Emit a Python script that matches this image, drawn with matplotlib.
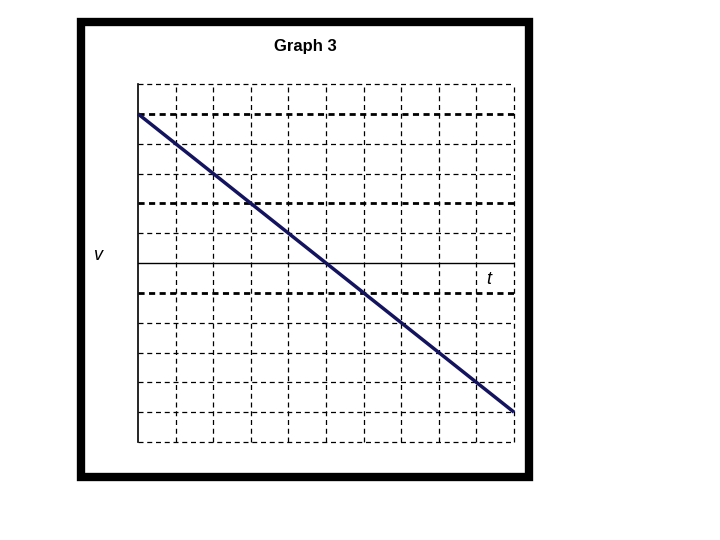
#!/usr/bin/python3
# -*- coding: utf-8 -*-
import matplotlib
matplotlib.use("Agg")
import matplotlib.pyplot as plt
from matplotlib.patches import Rectangle

# data
title = "Graph 3"
t = [0, 10]
v = [5, -5]
t_grid = list(range(0, 11))
v_grid = list(range(-6, 7))
thick_rows = [5, 2, -1]


# black frame round the whole graph
def draw_frame(fig):
    W, H = 720.0, 540.0
    x0, x1 = 81 / W, 529 / W
    y0, y1 = 1 - 476.5 / H, 1 - 21.5 / H
    fig.patches.append(Rectangle((x0, y0), x1 - x0, y1 - y0, transform=fig.transFigure,
                                 fill=False, edgecolor='black', linewidth=6, joinstyle='miter'))


def draw_grid(ax):
    for x in t_grid[1:]:
        ax.axvline(x, color='black', linewidth=0.9, linestyle=(0, (4, 3)), zorder=1, clip_on=False)
    for y in v_grid:
        if y == 0:
            ax.axhline(y, color='black', linewidth=1.0, zorder=2)
        elif y in thick_rows:
            ax.axhline(y, color='black', linewidth=2.0, linestyle=(0, (2.2, 1.6)), zorder=1)
        else:
            ax.axhline(y, color='black', linewidth=0.9, linestyle=(0, (4, 3)), zorder=1, clip_on=False)


if __name__ == "__main__":
    fig = plt.figure(figsize=(7.2, 5.4), dpi=100)
    W, H = 720.0, 540.0
    ax = fig.add_axes([138 / W, 1 - 442 / H, (514 - 138) / W, (442 - 84) / H])
    ax.set_xlim(t_grid[0], t_grid[-1])
    ax.set_ylim(v_grid[0], v_grid[-1])
    for s in ['top', 'right', 'bottom']:
        ax.spines[s].set_visible(False)
    ax.spines['left'].set_linewidth(1.2)
    ax.set_xticks([])
    ax.set_yticks([])
    draw_grid(ax)
    ax.plot(t, v, color='#14145e', linewidth=2.5, solid_capstyle='butt', zorder=3, clip_on=False)

    fig.text(305 / W, 1 - 47 / H, title, ha='center', va='center',
             fontsize=12, fontweight='bold', family='Liberation Sans')
    fig.text(98 / W, 1 - 256 / H, "v", ha='center', va='center',
             fontsize=13, style='italic', family='Liberation Sans')
    fig.text(489 / W, 1 - 280 / H, "t", ha='center', va='center',
             fontsize=13, style='italic', family='Liberation Sans')
    draw_frame(fig)
    plt.savefig("out.png", dpi=100)
    plt.close()
